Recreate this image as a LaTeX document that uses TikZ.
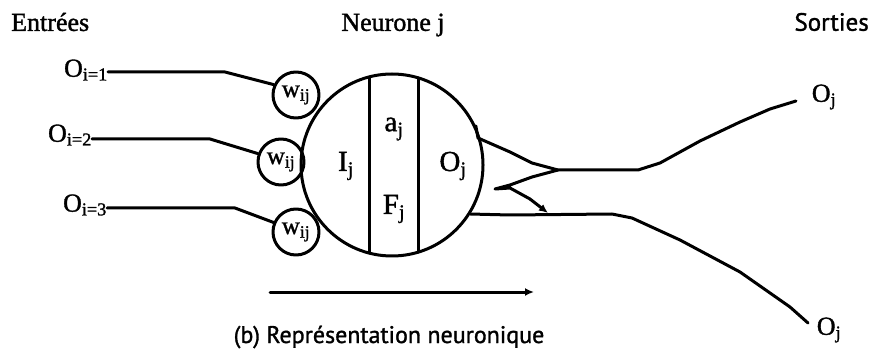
\documentclass[tikz,border=0pt]{standalone}
\usepackage{fontspec}
\setmainfont{Liberation Serif}[BoldFont=Liberation Serif, BoldFeatures={FakeBold=1.3}]
\newfontfamily\capfont{PT Sans}[BoldFont=PT Sans, BoldFeatures={FakeBold=1.3}]
\usetikzlibrary{arrows.meta,calc}
\begin{document}
\begin{tikzpicture}[x=1pt,y=-1pt,
  lw/.style={line width=3pt, line join=round, line cap=round},
  txt/.style={inner sep=0pt, font=\bfseries\fontsize{26}{30}\selectfont},
  wnode/.style={circle, draw, lw, minimum size=46pt, inner sep=0pt, font=\bfseries\fontsize{25}{29}\selectfont},
  lab/.style={inner sep=0pt, font=\bfseries\fontsize{26}{30}\selectfont},
  inlab/.style={inner sep=0pt, font=\bfseries\fontsize{29}{33}\selectfont}]
\useasboundingbox (0,0) rectangle (877,363);
% titles
\node[txt, anchor=west] (entrees) at (11,22) {Entrées};
\node[txt] (neurone) at (393,25) {Neurone j};
\node[txt, anchor=east, font=\capfont\bfseries\fontsize{25}{30}\selectfont] (sorties) at (869,22) {Sorties};
% big neuron
\node[circle, draw, lw, minimum size=182pt, inner sep=0pt] (N) at (392,165) {};
\draw[lw] ($(N.center)+(-23,-88)$) coordinate (l1t) -- ($(N.center)+(-23,88)$) coordinate (l1b);
\draw[lw] ($(N.center)+(26,-87)$) coordinate (l2t) -- ($(N.center)+(26,87)$) coordinate (l2b);
\node[inlab] (Ij) at (346,166) {I\textsubscript{j}};
\node[inlab] (aj) at (394,129) {a\textsubscript{j}};
\node[inlab] (Fj) at (394,209) {F\textsubscript{j}};
\node[inlab] (Oj) at (453,166) {O\textsubscript{j}};
% weights
\node[wnode] (w1) at (296,95) {w\textsubscript{ij}};
\node[wnode] (w2) at (281,162) {w\textsubscript{ij}};
\node[wnode] (w3) at (296,232) {w\textsubscript{ij}};
% inputs
\node[lab, anchor=east] (i1) at (108,70) {O\textsubscript{i=1}};
\node[lab, anchor=east] (i2) at (92,135) {O\textsubscript{i=2}};
\node[lab, anchor=east] (i3) at (107,205) {O\textsubscript{i=3}};
\coordinate (b1) at (225,72);
\coordinate (b2) at (210,139);
\coordinate (b3) at (235,208);
\draw[lw] (i1.east |- b1) -- (b1) -- (w1.155);
\draw[lw] (i2.east |- b2) -- (b2) -- (w2.160);
\draw[lw] (i3.east |- b3) -- (b3) -- (w3.157);
% outputs
\node[lab] (o1) at (824,97) {O\textsubscript{j}};
\node[lab] (o2) at (829,330) {O\textsubscript{j}};
\coordinate (e1) at (796,101);
\coordinate (e2) at (808,323);
\coordinate (jn) at (558,170);
\draw[lw] (N.25) -- (478,138) -- (510,152) -- (532,163) -- (jn) -- (638,170)
  -- (660,163) -- (700,141) -- (740,122) -- (770,109) -- (e1);
\draw[lw] (N.-32) -- (510,215) -- (612,214) -- (632,218) -- (680,240) -- (740,272)
  -- (790,307) -- (e2);
\draw[lw] (jn) -- (532,177) -- (510,185) -- (495,189) -- (510,188) -- (530,199);
\draw[lw, -{Latex[length=9pt,width=8pt]}] (530,199) -- (548,213);
% flow arrow
\coordinate (fa) at (270,292);
\coordinate (fb) at (534,292);
\draw[lw, -{Latex[length=9pt,width=8pt]}] (fa) -- (fb);
\node[inner sep=0pt, font=\capfont\bfseries\fontsize{24}{28}\selectfont] (cap) at (389,337) {(b) Représentation neuronique};
\end{tikzpicture}
\end{document}
